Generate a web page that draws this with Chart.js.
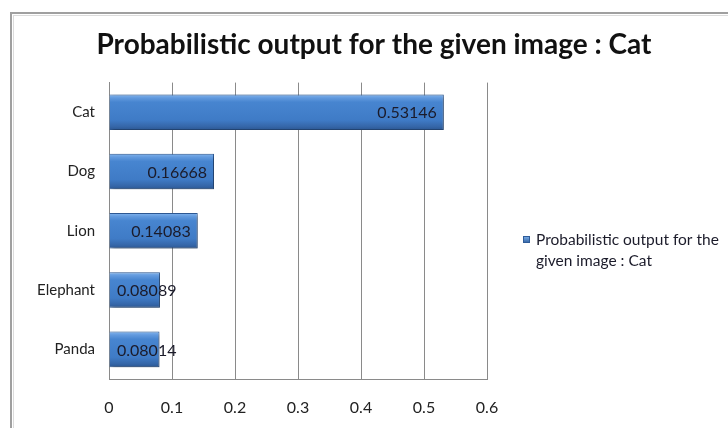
<!DOCTYPE html>
<html>
<head>
<meta charset="utf-8">
<script src="https://cdn.jsdelivr.net/npm/chart.js@4.4.0/dist/chart.umd.min.js"></script>
<style>
  html, body { margin: 0; padding: 0; background: #fff; }
  #wrap { position: relative; width: 728px; height: 428px; }
  canvas { display: block; }
</style>
</head>
<body>
<div id="wrap"><canvas id="c" width="728" height="428"></canvas></div>
<script>
const chartTitle = "Probabilistic output for the given image : Cat";
const seriesName = "Probabilistic output for the given image : Cat";
const legendLines = ["Probabilistic output for the", "given image : Cat"];
const categories = ["Cat", "Dog", "Lion", "Elephant", "Panda"];
const probabilities = [0.53146, 0.16668, 0.14083, 0.08089, 0.08014];
const labelTexts = ["0.53146", "0.16668", "0.14083", "0.08089", "0.08014"];
const xTicks = [0, 0.1, 0.2, 0.3, 0.4, 0.5, 0.6];

const FONT = "Lato, 'Open Sans', sans-serif";

const framePlugin = {
  id: 'frame',
  beforeDraw(chart) {
    const c = chart.ctx;
    c.save();
    c.fillStyle = '#ffffff';
    c.fillRect(0, 0, chart.width, chart.height);
    c.strokeStyle = '#a0a0a0';
    c.lineWidth = 2;
    c.strokeRect(11, 13, chart.width + 20, chart.height + 20);
    c.strokeStyle = '#dcdcdc';
    c.lineWidth = 1;
    c.strokeRect(13.5, 15.5, chart.width + 20, chart.height + 20);
    c.restore();
  }
};

const shadowPlugin = {
  id: 'barShadow',
  beforeDatasetsDraw(chart) {
    const c = chart.ctx;
    c.save();
    c.shadowColor = 'rgba(0,0,0,0.35)';
    c.shadowBlur = 4;
    c.shadowOffsetX = 2;
    c.shadowOffsetY = 2;
  },
  afterDatasetsDraw(chart) {
    chart.ctx.restore();
  }
};

const labelPlugin = {
  id: 'barLabels',
  afterDatasetsDraw(chart) {
    const c = chart.ctx;
    const meta = chart.getDatasetMeta(0);
    const xs = chart.scales.x;
    const base = xs.getPixelForValue(0);
    c.save();
    c.shadowColor = 'transparent';
    c.font = "16px " + FONT;
    c.fillStyle = '#1b1b2a';
    c.textBaseline = 'middle';
    c.textAlign = 'left';
    meta.data.forEach((bar, i) => {
      const txt = labelTexts[i];
      const w = c.measureText(txt).width;
      let x = bar.x - 7 - w;
      if (x < base + 8) x = base + 8;
      c.fillText(txt, x, bar.y + 1);
    });
    c.restore();
  }
};

const legendPlugin = {
  id: 'sideLegend',
  afterDraw(chart) {
    const c = chart.ctx;
    c.save();
    const grd = c.createLinearGradient(0, 236, 0, 243);
    grd.addColorStop(0, '#7fb3ee');
    grd.addColorStop(1, '#2f5f9f');
    c.fillStyle = grd;
    c.fillRect(523, 236, 7, 7);
    c.strokeStyle = '#2f5c99';
    c.lineWidth = 1;
    c.strokeRect(523.5, 236.5, 6, 6);
    c.font = "15.5px " + FONT;
    c.fillStyle = '#1b1b2a';
    c.textBaseline = 'middle';
    c.textAlign = 'left';
    c.fillText(legendLines[0], 536, 240);
    c.fillText(legendLines[1], 536, 261);
    c.restore();
  }
};

function barFill(ctx) {
  const chart = ctx.chart;
  if (!chart.chartArea || ctx.dataIndex === undefined) return '#4180cc';
  const ys = chart.scales.y;
  const yc = ys.getPixelForValue(ctx.dataIndex);
  const g = chart.ctx.createLinearGradient(0, yc - 18, 0, yc + 18);
  g.addColorStop(0, '#86b8f0');
  g.addColorStop(0.1, '#629ade');
  g.addColorStop(0.22, '#4785d0');
  g.addColorStop(0.72, '#3f7bc6');
  g.addColorStop(0.9, '#3566a8');
  g.addColorStop(1, '#2a5590');
  return g;
}

new Chart(document.getElementById('c'), {
  type: 'bar',
  data: {
    labels: categories,
    datasets: [{
      label: seriesName,
      data: probabilities,
      backgroundColor: barFill,
      borderColor: '#2f5c99',
      borderWidth: 1,
      categoryPercentage: 0.6,
      barPercentage: 1.0
    }]
  },
  options: {
    indexAxis: 'y',
    responsive: false,
    animation: false,
    devicePixelRatio: 1,
    layout: { padding: { left: 20, right: 0, top: 0, bottom: 0 } },
    plugins: {
      legend: { display: false },
      tooltip: { enabled: false },
      title: {
        display: true,
        text: chartTitle,
        color: '#111111',
        font: { family: FONT, size: 28, weight: 'bold', lineHeight: 1.2 },
        padding: { top: 28, bottom: 21 }
      }
    },
    scales: {
      x: {
        type: 'linear',
        min: 0,
        max: 0.6,
        afterBuildTicks(scale) { scale.ticks = xTicks.map(v => ({ value: v })); },
        ticks: {
          color: '#222222',
          font: { family: FONT, size: 16 },
          padding: 19,
          callback: (v) => String(Math.round(v * 10) / 10)
        },
        grid: { color: '#8a8a8a', lineWidth: 1, drawTicks: false },
        border: { display: true, color: '#8a8a8a', width: 1 },
        afterFit(scale) { scale.height = 49; }
      },
      y: {
        type: 'category',
        ticks: {
          color: '#222222',
          font: { family: FONT, size: 15 },
          padding: 14
        },
        grid: { display: false, drawTicks: false },
        border: { display: true, color: '#8a8a8a', width: 1 },
        afterFit(scale) { scale.width = 89; }
      },
      yRight: {
        type: 'category',
        position: 'right',
        labels: categories,
        display: true,
        ticks: { display: false },
        grid: { display: false, drawTicks: false },
        border: { display: false },
        afterFit(scale) { scale.width = 241; }
      }
    }
  },
  plugins: [framePlugin, shadowPlugin, labelPlugin, legendPlugin]
});
</script>
</body>
</html>
